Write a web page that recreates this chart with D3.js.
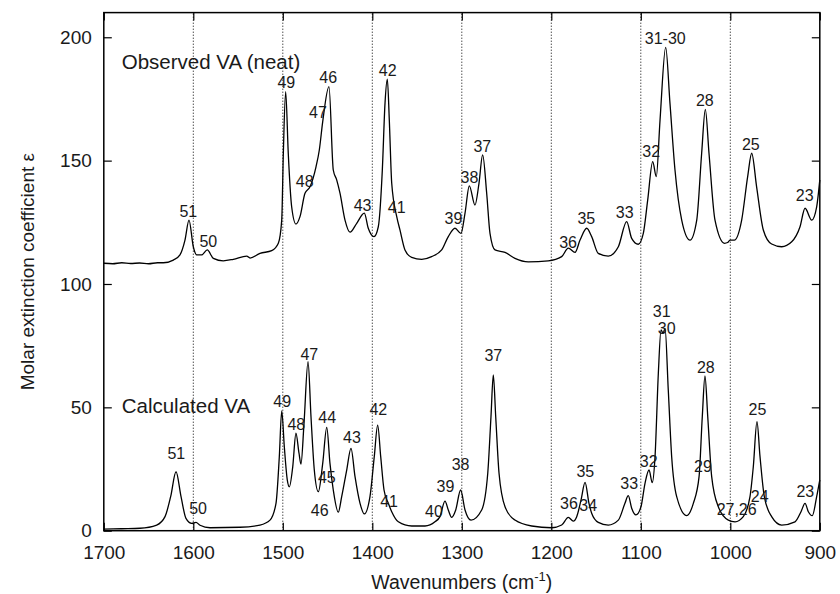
<!DOCTYPE html>
<html>
<head>
<meta charset="utf-8">
<script src="https://cdn.jsdelivr.net/npm/d3@7"></script>
<style>
  body { margin: 0; background: #fff; }
  text { font-family: "Liberation Sans", Arial, sans-serif; fill: #1a1a1a; }
</style>
</head>
<body>
<div id="chart"></div>
<script>
// observed spectrum (neat VA)
const obsWn = [1700, 1690, 1680, 1670, 1660, 1650, 1640, 1633.5, 1622.3, 1614.9, 1609.3, 1604.8, 1600, 1596.2, 1590.6,
  1584.4, 1577.6, 1566.5, 1555.3, 1540.3, 1536.6, 1525.5, 1512.4, 1505, 1501.2, 1499.4, 1496.8, 1493.9, 1490.1,
  1485.3, 1480.8, 1475.2, 1469.6, 1462.9, 1459.2, 1455.4, 1448.4, 1443.6, 1439.8, 1436.1, 1430.5, 1424.9, 1417.4,
  1408.9, 1404.5, 1398.1, 1393.3, 1388.8, 1385.8, 1383.2, 1381, 1378.3, 1372.7, 1369.1, 1363.5, 1356, 1344.8,
  1333.7, 1322.5, 1315.1, 1307.6, 1300.9, 1296.4, 1291.6, 1285.3, 1280.8, 1276.7, 1272.2, 1268.5, 1262.9, 1251.7,
  1240.6, 1225.7, 1203.4, 1188.4, 1181, 1173.5, 1167.9, 1160.4, 1154.9, 1147.5, 1136.3, 1125.1, 1115.8, 1110.2,
  1102.8, 1097.2, 1092.3, 1086.7, 1082.7, 1078.5, 1072.2, 1067.4, 1061.8, 1054.3, 1045, 1037.5, 1032, 1027.9,
  1023.8, 1017.1, 1006.4, 1003, 1000.3, 995.5, 987.3, 980.6, 976.1, 970.6, 963.1, 953.8, 942.6, 931.4, 922.1,
  916.5, 909, 903.5, 900];
const obsEps = [108.4, 108.2, 108.6, 108.3, 108.5, 108.2, 108.6, 108.6, 109.7, 111.8, 117.8, 125.9, 115.1, 111.8, 111.8,
  113.8, 110.4, 109.4, 110, 111.3, 110.5, 112.4, 113.5, 116.5, 125.9, 153, 178, 153, 131.3,
  124.3, 127.3, 136.8, 139.4, 147.5, 154.3, 165.8, 180, 146.2, 142.2, 136.8, 125.9, 121, 124.6,
  128.7, 122.6, 119.2, 123.2, 146.2, 173.2, 183, 166.5, 140.8, 127.3, 121.9, 113.8, 110.8, 110,
  111.1, 113.8, 119.2, 122.6, 120.5, 128.7, 139.8, 132, 140.8, 152.3, 136.8, 120.5, 113.8, 112.8,
  110.4, 109, 109.4, 111.1, 114.5, 112.8, 117.8, 122.6, 119.2, 112.4, 111.3, 115.1, 125.3, 118.5,
  116.1, 120.5, 134, 149.6, 143.5, 166.5, 195.9, 173.2, 146.2, 125.9, 117.8, 125.9, 153, 170.8,
  153, 125.9, 116.5, 116.8, 117.8, 117.8, 125.9, 143.5, 153, 139.4, 121.9, 116.2, 115.1, 117.1, 123.2,
  130.7, 125.9, 131.3, 142.2];

// calculated spectrum
const calcWn = [1700, 1680, 1659.6, 1640.9, 1631.6, 1625.3, 1619.3, 1613.7, 1608.2, 1601.8, 1597, 1592.5, 1581.3,
  1547.8, 1525.5, 1514.3, 1507.6, 1503.9, 1501.2, 1498.3, 1495, 1492.7, 1488.9, 1485.3, 1481.9, 1479.7, 1476.3,
  1471.8, 1468.5, 1464.8, 1460.3, 1455.4, 1450.9, 1447.3, 1443.6, 1438, 1434.2, 1428.6, 1423.8, 1419.3, 1413.7,
  1408.9, 1402.6, 1397.8, 1394, 1390.6, 1386.9, 1382.1, 1378.3, 1370.9, 1356, 1341.1, 1330, 1324.4, 1318.8,
  1315.1, 1311.3, 1306.8, 1301.3, 1296.4, 1289.7, 1277.8, 1271, 1267.4, 1264.8, 1262.1, 1258.4, 1251.7, 1240.6,
  1221.9, 1199.6, 1188.4, 1181, 1175.4, 1171.6, 1166.8, 1162.3, 1157.9, 1154.9, 1147.5, 1136.3, 1125.1, 1117.7,
  1114, 1110.2, 1105.4, 1099.8, 1095.3, 1090.8, 1087.2, 1084.1, 1080.4, 1077.4, 1075.2, 1072.9, 1069.3, 1065.5,
  1059.9, 1048.7, 1041.3, 1034.9, 1031.3, 1028.3, 1025.2, 1020.8, 1013.4, 1002.2, 994.7, 985.5, 978, 974.3,
  970.2, 966.8, 962, 953.8, 942.6, 927.7, 921, 916.5, 912.8, 908.4, 903.5, 900];
const calcEps = [0.6, 0.8, 1, 2.3, 5.7, 13.8, 23.9, 13.8, 5, 3, 3.4, 2.2, 1.2,
  1.4, 2.3, 4.3, 11.1, 30, 48.6, 34, 20.6, 17.8, 25.9, 39.5, 31.4, 27, 43.5,
  68.5, 46.2, 24.6, 15.8, 27.3, 41.9, 27.3, 16.5, 7.5, 13.8, 24.6, 33.4, 21.9, 11.1,
  6.8, 13.8, 30, 42.8, 30, 16.5, 11.1, 7.7, 3.6, 1.9, 1.9, 3.6, 5.7, 12,
  8.4, 5.4, 8.4, 16.5, 8.4, 4.3, 8.4, 23.3, 46.2, 63.1, 46.2, 23.3, 9.7, 4.3,
  1.9, 1.2, 2.3, 5.4, 3.9, 5.7, 12.4, 19.6, 11.1, 7.1, 3.4, 2.3, 4.3, 11.1,
  14.2, 9.1, 6.4, 9.7, 19.2, 24.6, 19.5, 30, 63.8, 81.4, 80, 82, 57, 30,
  13.8, 6.1, 11.1, 21.9, 46.2, 62.7, 46.2, 21.9, 9.7, 4.3, 3.6, 5.7, 13.8, 25.9,
  44.2, 30, 13.8, 5.7, 2.3, 3.6, 7.7, 11.1, 7.7, 6.1, 13.8, 20.6];

// peak labels: text, wavenumber, epsilon (label baseline)
const obsLabels = ["51", "50", "49", "48", "47", "46", "43", "42", "41", "39", "38", "37", "36", "35", "33", "32", "31-30", "28", "25", "23"];
const obsLabelWn = [1605.6, 1583.2, 1496.1, 1475.5, 1460.7, 1449.2, 1410.9, 1382.8, 1372.7, 1309.3, 1291.4, 1277.1, 1181.3, 1160.9, 1118, 1088.3, 1072.7, 1028.5, 977.1, 916.8];
const obsLabelEps = [127.3, 115.1, 179.3, 139.4, 167.2, 181.4, 129.6, 184.4, 128.7, 124.3, 140.8, 153.6, 114.7, 124.3, 126.6, 151.6, 197.3, 172.2, 154.3, 133.6];

const calcLabels = ["51", "50", "49", "48", "47", "46", "45", "44", "43", "42", "41", "40", "39", "38", "37", "36", "34", "35", "33", "32", "31", "30", "28", "29", "27,26", "24", "25", "23"];
const calcLabelWn = [1619, 1594.7, 1500.7, 1484.9, 1470.4, 1458.8, 1450.8, 1450.4, 1422.7, 1393.3, 1381.2, 1331.1, 1318.2, 1301.4, 1264.8, 1180.2, 1158.7, 1162, 1113, 1091.2, 1076.6, 1071.1, 1027.4, 1030.5, 992.9, 967.2, 969.6, 916.2];
const calcLabelEps = [28.9, 6.8, 50, 40.8, 69.2, 6, 19.2, 43.8, 35.4, 46.9, 9.7, 5.7, 15.8, 24.6, 68.9, 8.8, 8.1, 21.9, 16.9, 25.9, 86.7, 79.7, 63.8, 23.9, 6.4, 11.8, 46.9, 13.8];

const seriesNames = ["Observed VA (neat)", "Calculated VA"];
const seriesNameWn = [1680, 1680];
const seriesNameEps = [187, 47.6];

const xTicks = [1700, 1600, 1500, 1400, 1300, 1200, 1100, 1000, 900];
const gridTicks = [1600, 1500, 1400, 1300, 1200, 1100, 1000];
const yTicks = [0, 50, 100, 150, 200];

const width = 840, height = 594;
const margin = { top: 12.6, right: 20.2, bottom: 63.3, left: 103.8 };

const svg = d3.select("#chart").append("svg")
  .attr("width", width).attr("height", height);

const x = d3.scaleLinear().domain([1700, 900]).range([margin.left, width - margin.right]);
const y = d3.scaleLinear().domain([0, 210]).range([height - margin.bottom, margin.top]);

// dotted vertical grid
svg.append("g").selectAll("line")
  .data(gridTicks)
  .join("line")
  .attr("x1", d => x(d)).attr("x2", d => x(d))
  .attr("y1", y(0)).attr("y2", y(210))
  .attr("stroke", "#000").attr("stroke-width", 1)
  .attr("stroke-dasharray", "1,2");

// axes, ticks pointing inward
svg.append("g")
  .attr("transform", `translate(0,${y(0)})`)
  .call(d3.axisBottom(x).tickValues(xTicks).tickFormat(d3.format("d"))
    .tickSizeInner(-8).tickSizeOuter(0).tickPadding(15));
svg.append("g")
  .attr("transform", `translate(0,${y(210)})`)
  .call(d3.axisTop(x).tickValues(xTicks).tickSizeInner(-8).tickSizeOuter(0).tickFormat(""));
svg.append("g")
  .attr("transform", `translate(${x(1700)},0)`)
  .call(d3.axisLeft(y).tickValues(yTicks).tickSizeInner(-8).tickSizeOuter(0).tickPadding(12));
svg.append("g")
  .attr("transform", `translate(${x(900)},0)`)
  .call(d3.axisRight(y).tickValues(yTicks).tickSizeInner(-8).tickSizeOuter(0).tickFormat(""));

svg.selectAll(".domain").remove();
svg.selectAll(".tick line").attr("stroke", "#000").attr("stroke-width", 1.2);
svg.selectAll(".tick text").style("font-size", "19px")
  .style("font-family", "Liberation Sans, Arial, sans-serif").attr("fill", "#1a1a1a");

// frame
svg.append("rect")
  .attr("x", x(1700)).attr("y", y(210))
  .attr("width", x(900) - x(1700)).attr("height", y(0) - y(210))
  .attr("fill", "none").attr("stroke", "#000").attr("stroke-width", 1.5);

// spectra
const line = d3.line()
  .x(d => x(d[0])).y(d => y(d[1]))
  .curve(d3.curveMonotoneX);

svg.append("path")
  .datum(d3.zip(obsWn, obsEps))
  .attr("d", line)
  .attr("fill", "none").attr("stroke", "#000").attr("stroke-width", 1.3);

svg.append("path")
  .datum(d3.zip(calcWn, calcEps))
  .attr("d", line)
  .attr("fill", "none").attr("stroke", "#000").attr("stroke-width", 1.3);

// peak labels
const labels = d3.zip(obsLabels, obsLabelWn, obsLabelEps)
  .concat(d3.zip(calcLabels, calcLabelWn, calcLabelEps));
svg.append("g").selectAll("text")
  .data(labels)
  .join("text")
  .attr("x", d => x(d[1])).attr("y", d => y(d[2]))
  .attr("text-anchor", "middle")
  .style("font-size", "16px")
  .text(d => d[0]);

svg.append("g").selectAll("text")
  .data(d3.zip(seriesNames, seriesNameWn, seriesNameEps))
  .join("text")
  .attr("x", d => x(d[1])).attr("y", d => y(d[2]))
  .style("font-size", "20.5px")
  .text(d => d[0]);

// axis titles
const xTitle = svg.append("text")
  .attr("x", (x(1700) + x(900)) / 2).attr("y", 589)
  .attr("text-anchor", "middle")
  .style("font-size", "19.5px");
xTitle.append("tspan").text("Wavenumbers (cm");
xTitle.append("tspan").attr("dy", -8).style("font-size", "13px").text("-1");
xTitle.append("tspan").attr("dy", 8).text(")");

svg.append("text")
  .attr("transform", `translate(34,${(y(0) + y(210)) / 2}) rotate(-90)`)
  .attr("text-anchor", "middle")
  .style("font-size", "19px")
  .text("Molar extinction coefficient ε");
</script>
</body>
</html>
